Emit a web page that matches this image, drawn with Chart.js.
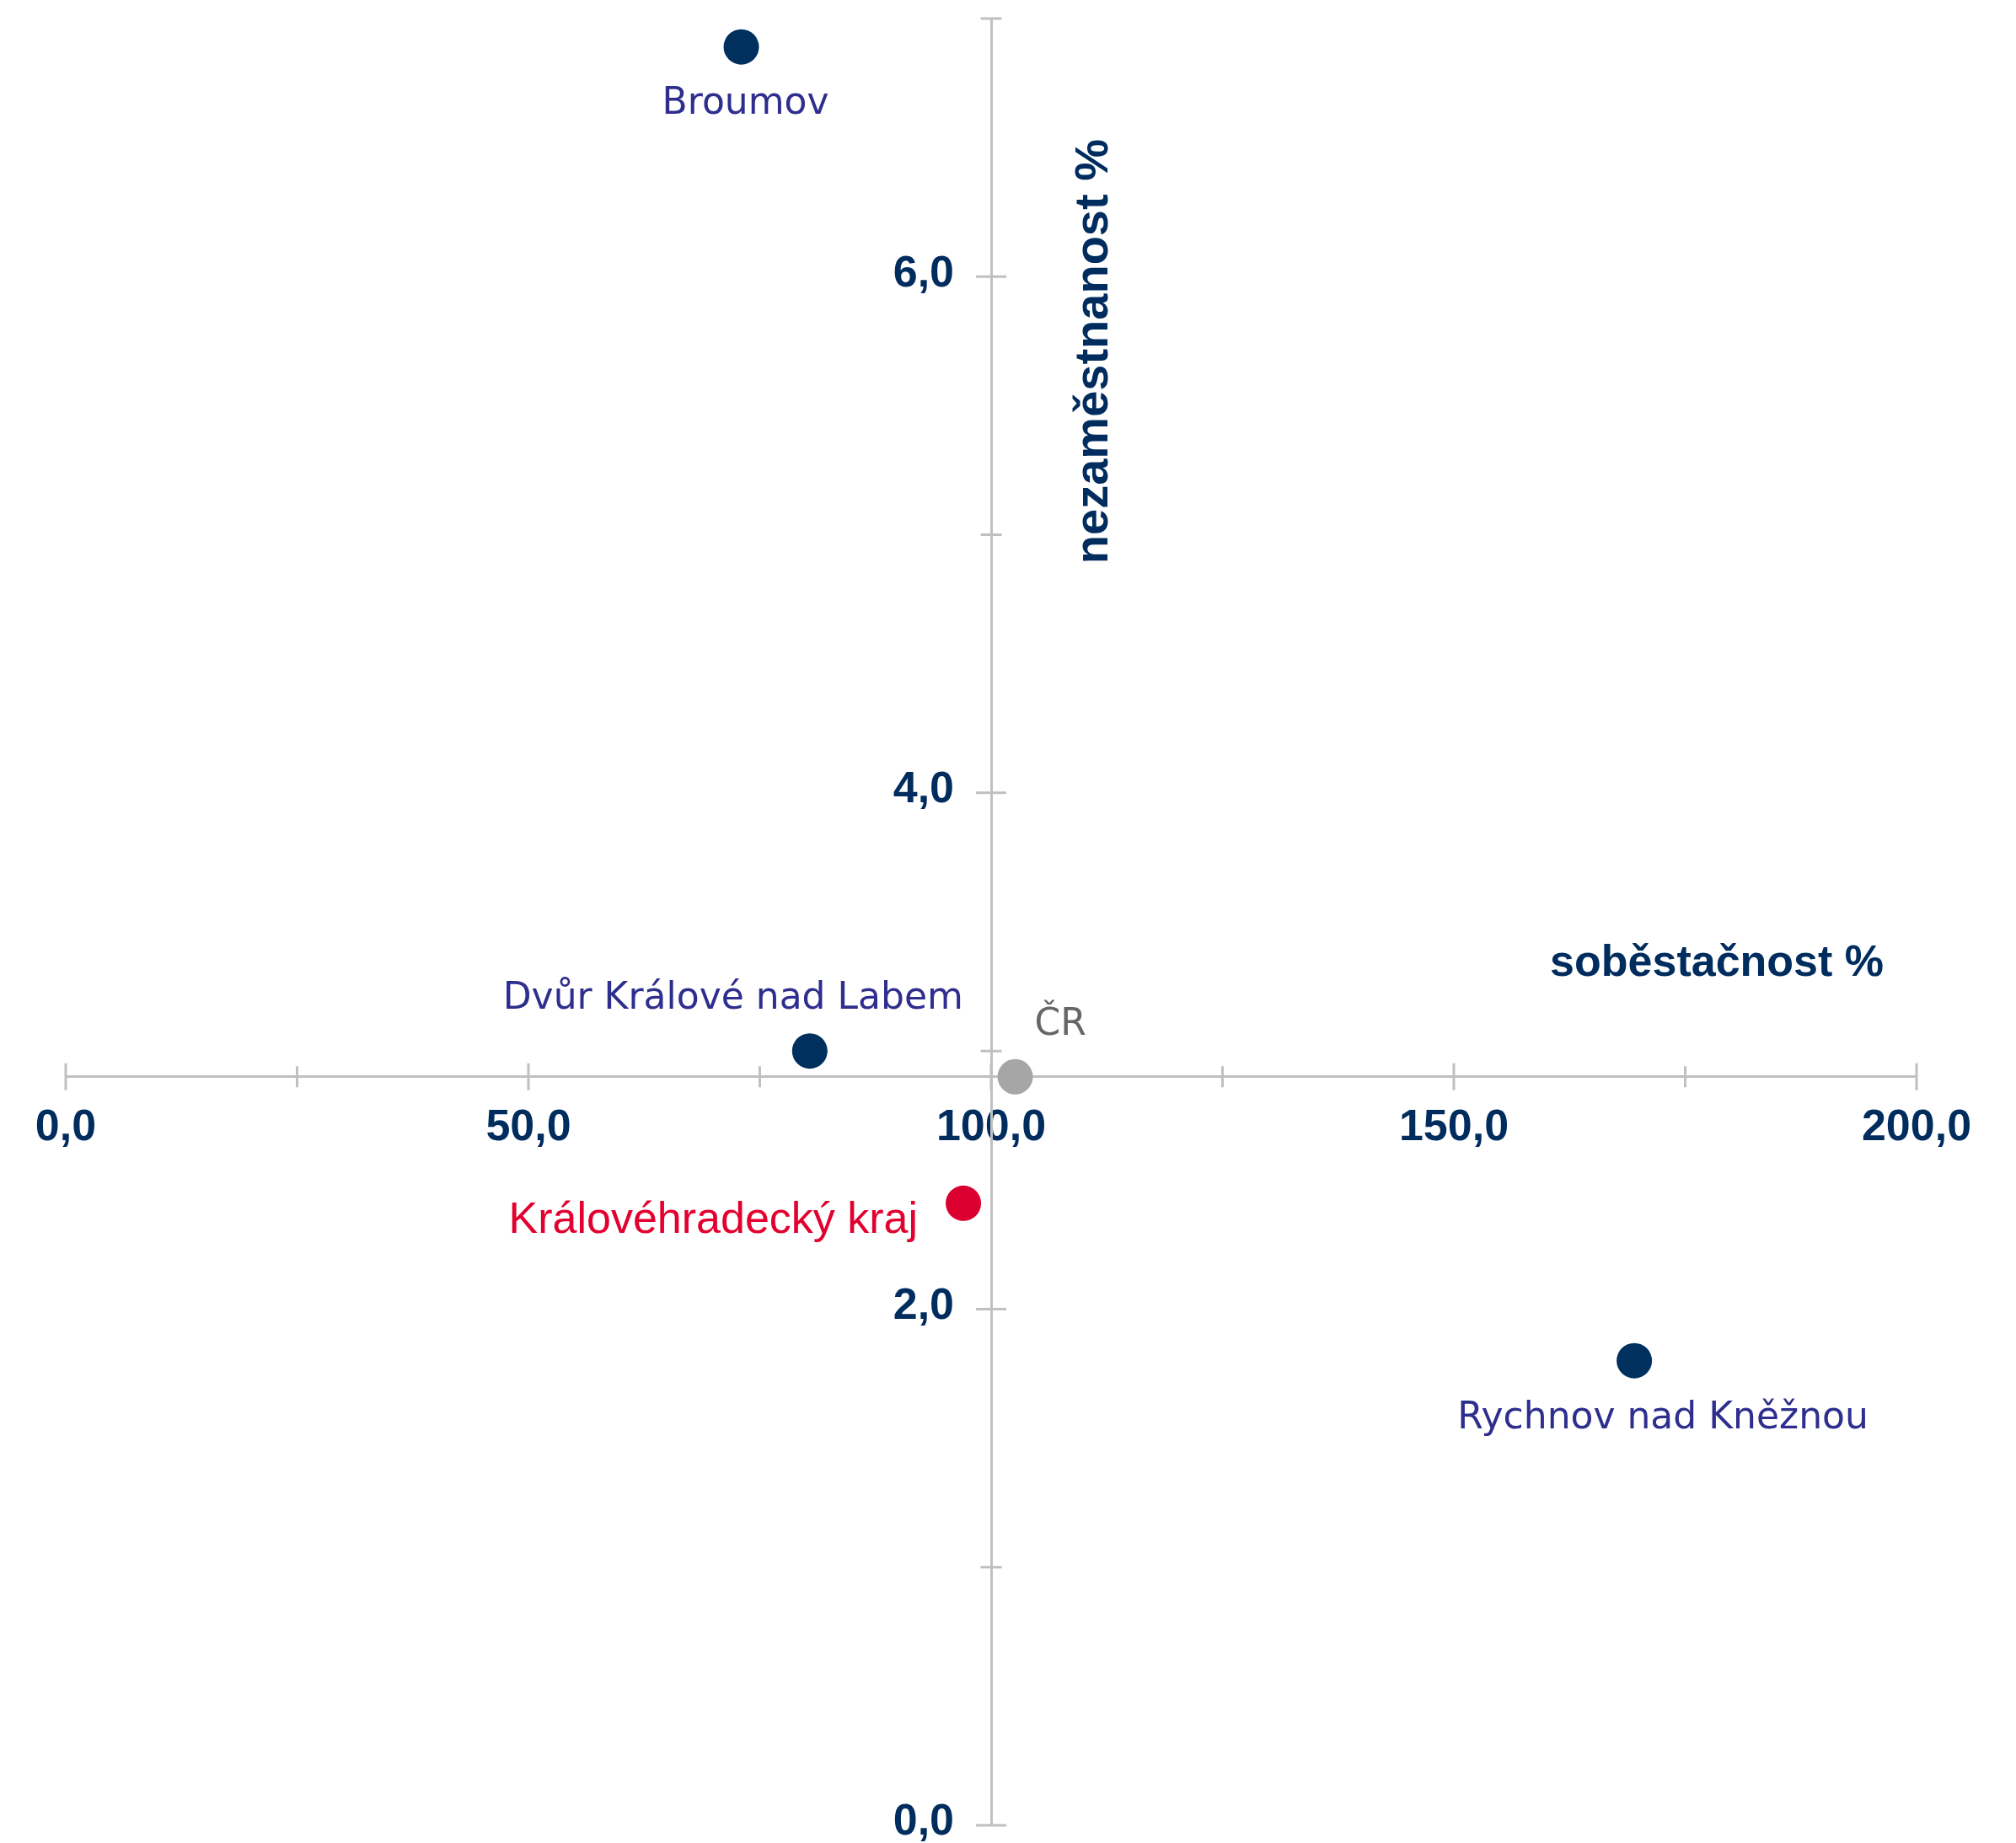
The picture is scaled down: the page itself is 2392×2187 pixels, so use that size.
<!DOCTYPE html>
<html>
<head>
<meta charset="utf-8">
<script src="https://cdn.jsdelivr.net/npm/chart.js@4.4.1/dist/chart.umd.min.js"></script>
<style>
  html, body { margin: 0; padding: 0; background: #fff; }
</style>
</head>
<body>
<canvas id="chart" width="2392" height="2187"></canvas>
<script>
// ===== DATA =====
const places = ["Broumov", "Dvůr Králové nad Labem", "ČR", "Královéhradecký kraj", "Rychnov nad Kněžnou"];
const sobestacnost = [73.0, 80.4, 102.6, 97.0, 169.5];
const nezamestnanost = [6.89, 3.0, 2.9, 2.41, 1.8];

const xTickValues = [0, 50, 100, 150, 200];
const xTickLabels = ["0,0", "50,0", "100,0", "150,0", "200,0"];
const yTickValues = [0, 2, 4, 6];
const yTickLabels = ["0,0", "2,0", "4,0", "6,0"];

const xTitle = "soběstačnost %";
const yTitle = "nezaměstnanost %";

// osy se kříží v hodnotách ČR
const crossX = 100;
const crossY = 2.9;

// ===== STYLES =====
const NAVY = "#002c5e";
const AXIS = "#c0c0c0";
const labelFont = "44px 'DejaVu Sans'";
const tickFontCss = "bold 52px 'Liberation Sans'";

function styleFor(name) {
  if (name === "ČR") return { dot: "#a6a6a6", text: "#666666", font: labelFont, align: "left", dx: 23, dy: -50 };
  if (name === "Královéhradecký kraj") return { dot: "#dc0030", text: "#e2002f", font: "52px 'Liberation Sans'", align: "right", dx: -54, dy: 35 };
  if (name === "Broumov") return { dot: "#00305e", text: "#2e2e8e", font: labelFont, align: "center", dx: 5, dy: 79 };
  if (name === "Dvůr Králové nad Labem") return { dot: "#00305e", text: "#2e2e8e", font: labelFont, align: "center", dx: -91, dy: -50 };
  return { dot: "#00305e", text: "#2e2e8e", font: labelFont, align: "center", dx: 34, dy: 80 };
}

// ===== PLUGINS =====
// značky přes osy (hlavní delší) + popisky osy y vlevo od osy
const axisTicks = {
  id: "axisTicks",
  beforeDatasetsDraw(chart) {
    const { ctx, scales: { x, y } } = chart;
    const xAxisY = y.getPixelForValue(crossY);
    const yAxisX = x.getPixelForValue(crossX);
    ctx.save();
    ctx.strokeStyle = AXIS;
    ctx.lineWidth = 3;
    ctx.beginPath();
    x.ticks.forEach(t => {
      const px = x.getPixelForValue(t.value);
      const h = t.value % 50 === 0 ? 16 : 12.5;
      ctx.moveTo(px, xAxisY - h);
      ctx.lineTo(px, xAxisY + h);
    });
    y.ticks.forEach(t => {
      const py = y.getPixelForValue(t.value);
      const h = t.value % 2 === 0 ? 18 : 12.5;
      ctx.moveTo(yAxisX - h, py);
      ctx.lineTo(yAxisX + h, py);
    });
    ctx.stroke();

    ctx.fillStyle = NAVY;
    ctx.font = tickFontCss;
    ctx.textAlign = "right";
    ctx.textBaseline = "middle";
    yTickValues.forEach((v, i) => {
      ctx.fillText(yTickLabels[i], yAxisX - 44, y.getPixelForValue(v) - 3);
    });
    ctx.restore();
  }
};

// popisky bodů + názvy os
const pointLabels = {
  id: "pointLabels",
  afterDatasetsDraw(chart) {
    const { ctx, chartArea, scales: { x, y } } = chart;
    const meta = chart.getDatasetMeta(0);
    ctx.save();
    ctx.textBaseline = "alphabetic";
    meta.data.forEach((pt, i) => {
      const s = styleFor(places[i]);
      ctx.font = s.font;
      ctx.fillStyle = s.text;
      ctx.textAlign = s.align;
      ctx.fillText(places[i], pt.x + s.dx, pt.y + s.dy);
    });

    ctx.fillStyle = NAVY;
    ctx.font = "bold 52px 'Liberation Sans'";
    ctx.textAlign = "right";
    ctx.fillText(xTitle, chartArea.right - 39, y.getPixelForValue(crossY) - 120);

    ctx.translate(x.getPixelForValue(crossX) + 138, chartArea.top + 143);
    ctx.rotate(-Math.PI / 2);
    ctx.font = "bold 56px 'Liberation Sans'";
    ctx.textAlign = "right";
    ctx.fillText(yTitle, 0, 0);
    ctx.restore();
  }
};

// ===== CHART =====
const chart = new Chart(document.getElementById("chart"), {
  type: "scatter",
  data: {
    datasets: [{
      data: places.map((p, i) => ({ x: sobestacnost[i], y: nezamestnanost[i] })),
      pointRadius: 21,
      pointHoverRadius: 21,
      pointBorderWidth: 0,
      pointBackgroundColor: places.map(p => styleFor(p).dot)
    }]
  },
  options: {
    responsive: false,
    devicePixelRatio: 1,
    animation: false,
    clip: false,
    layout: { padding: { left: 78, right: 118, top: 22, bottom: 20 } },
    plugins: { legend: { display: false }, tooltip: { enabled: false } },
    scales: {
      x: {
        type: "linear",
        min: 0,
        max: 200,
        position: { y: crossY },
        border: { color: AXIS, width: 3 },
        grid: { display: false, drawTicks: false },
        ticks: {
          stepSize: 25,
          autoSkip: false,
          maxRotation: 0,
          padding: 30,
          color: NAVY,
          font: { family: "'Liberation Sans'", size: 52, weight: "bold" },
          callback: v => {
            const i = xTickValues.indexOf(v);
            return i < 0 ? "" : xTickLabels[i];
          }
        }
      },
      y: {
        type: "linear",
        min: 0,
        max: 7,
        position: { x: crossX },
        border: { color: AXIS, width: 3 },
        grid: { display: false, drawTicks: false },
        ticks: { stepSize: 1, display: false }
      }
    }
  },
  plugins: [axisTicks, pointLabels]
});
</script>
</body>
</html>
